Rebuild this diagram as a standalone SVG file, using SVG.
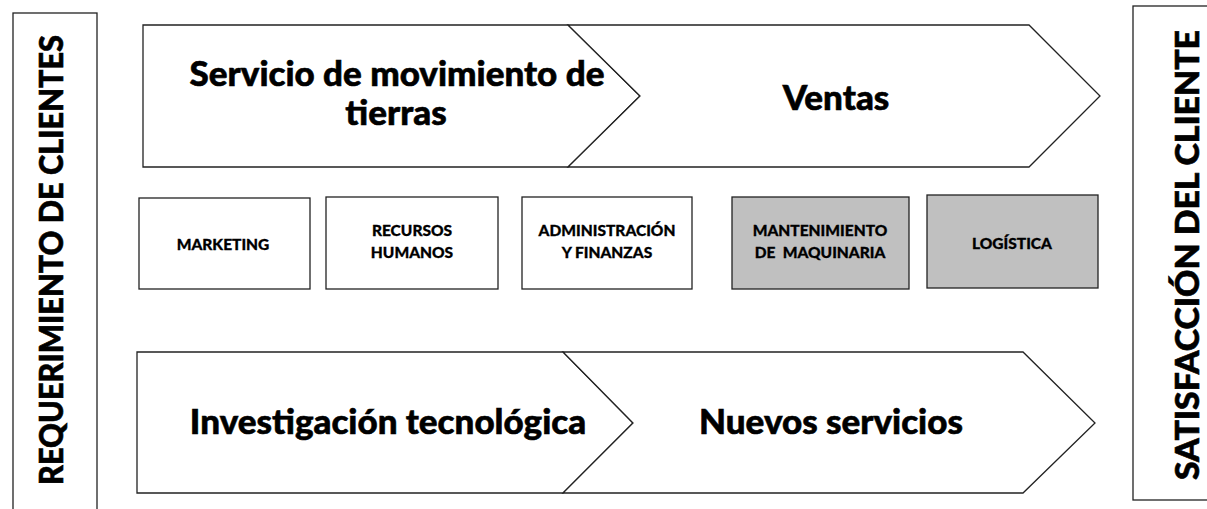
<svg xmlns="http://www.w3.org/2000/svg" width="1207" height="509" viewBox="0 0 1207 509">
<style>
.big{font-family:Lato,"Liberation Sans",sans-serif;font-weight:900;font-size:35px;fill:#000;stroke:#000;stroke-width:0.6;text-anchor:middle}
.vert{font-family:Lato,"Liberation Sans",sans-serif;font-weight:900;font-size:32px;fill:#000;stroke:#000;stroke-width:0.6;text-anchor:middle}
.small{font-family:Lato,"Liberation Sans",sans-serif;font-weight:900;font-size:15.5px;fill:#000;stroke:#000;stroke-width:0.3;text-anchor:middle;white-space:pre}
.chev{fill:#fff;stroke:#222;stroke-width:1.3}
.box{fill:#fff;stroke:#222;stroke-width:1.3}
.grey{fill:#c0c0c0;stroke:#222;stroke-width:1.3}
</style>
<rect width="1207" height="509" fill="#fff"/>
<g id="requerimiento">
<rect class="box" x="13" y="13" width="84" height="510"/>
<text class="vert" transform="translate(63,260) rotate(-90)" textLength="450" lengthAdjust="spacingAndGlyphs">REQUERIMIENTO DE CLIENTES</text>
</g>
<g id="satisfaccion">
<rect class="box" x="1133" y="6" width="90" height="494"/>
<text class="vert" transform="translate(1199,255) rotate(-90)" textLength="450" lengthAdjust="spacingAndGlyphs">SATISFACCIÓN DEL CLIENTE</text>
</g>
<g id="servicio">
<polygon class="chev" points="143,25 568,25 640,96 568,167 143,167"/>
<text class="big" x="397" y="86">Servicio de movimiento de</text>
<text class="big" x="396" y="125">tierras</text>
</g>
<g id="ventas">
<polygon class="chev" points="568,25 1029,25 1100,96 1029,167 568,167 640,96"/>
<text class="big" x="836" y="110">Ventas</text>
</g>
<g id="marketing">
<rect class="box" x="139" y="198" width="171" height="91"/>
<text class="small" x="223" y="250">MARKETING</text>
</g>
<g id="rrhh">
<rect class="box" x="326" y="197" width="172" height="92"/>
<text class="small" x="412" y="236">RECURSOS</text>
<text class="small" x="412" y="258">HUMANOS</text>
</g>
<g id="admin">
<rect class="box" x="522" y="197" width="170" height="92"/>
<text class="small" x="607" y="236">ADMINISTRACIÓN</text>
<text class="small" x="607" y="258">Y FINANZAS</text>
</g>
<g id="mantenimiento">
<rect class="grey" x="732" y="197" width="177" height="92"/>
<text class="small" x="820" y="236">MANTENIMIENTO</text>
<text class="small" x="820" y="258">DE  MAQUINARIA</text>
</g>
<g id="logistica">
<rect class="grey" x="927" y="195" width="171" height="93"/>
<text class="small" x="1012" y="249">LOGÍSTICA</text>
</g>
<g id="investigacion">
<polygon class="chev" points="137,352 563,352 633,423 563,493 137,493"/>
<text class="big" x="388" y="434">Investigación tecnológica</text>
</g>
<g id="nuevos">
<polygon class="chev" points="563,352 1023,352 1095,423 1023,493 563,493 633,423"/>
<text class="big" x="831" y="434">Nuevos servicios</text>
</g>
<g id="connectors"></g>
</svg>
